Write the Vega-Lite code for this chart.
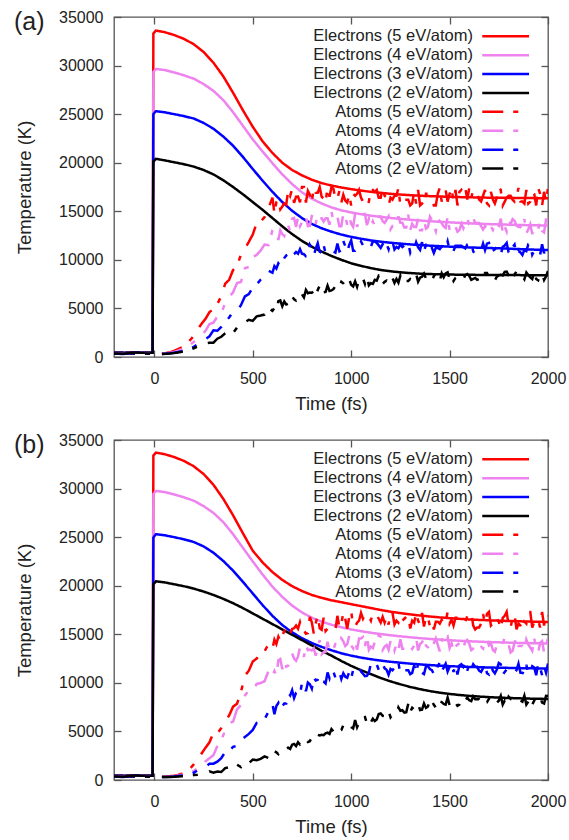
{
  "$schema": "https://vega.github.io/schema/vega-lite/v6.json",
  "padding": {"left": 13, "top": 8, "right": 0, "bottom": 0},
  "spacing": 17,
  "config": {
    "font": "Liberation Sans",
    "view": {"stroke": "#555", "strokeWidth": 1.3},
    "axis": {"domain": false, "grid": false, "tickSize": -7, "tickColor": "#555", "tickWidth": 1.3, "labelFontSize": 16, "labelColor": "#222", "titleFontSize": 18.5, "titleFontWeight": "normal", "titleColor": "#222", "labelFlush": false},
    "line": {"strokeWidth": 2.5}
  },
  "datasets": {
    "names": [
      {"k": "e5", "series": "Electrons (5 eV/atom)"},
      {"k": "e4", "series": "Electrons (4 eV/atom)"},
      {"k": "e3", "series": "Electrons (3 eV/atom)"},
      {"k": "e2", "series": "Electrons (2 eV/atom)"},
      {"k": "a5", "series": "Atoms (5 eV/atom)"},
      {"k": "a4", "series": "Atoms (4 eV/atom)"},
      {"k": "a3", "series": "Atoms (3 eV/atom)"},
      {"k": "a2", "series": "Atoms (2 eV/atom)"}
    ],
    "A": [
      {"t":-205,"e5":450,"e4":450,"e3":450,"e2":450},
      {"t":-150,"e5":420,"e4":420,"e3":420,"e2":420},
      {"t":-100,"e5":470,"e4":470,"e3":470,"e2":470},
      {"t":-50,"e5":430,"e4":430,"e3":430,"e2":430},
      {"t":-9,"e5":440,"e4":440,"e3":440,"e2":440},
      {"t":-5,"e5":33300,"e4":29350,"e3":25000,"e2":20100},
      {"t":8,"e5":33600,"e4":29650,"e3":25300,"e2":20400},
      {"t":50,"e5":33450,"e4":29550,"e3":25200,"e2":20250},
      {"t":100,"e5":33150,"e4":29300,"e3":25000,"e2":20050},
      {"t":150,"e5":32750,"e4":29000,"e3":24800,"e2":19850},
      {"t":200,"e5":32200,"e4":28650,"e3":24550,"e2":19600},
      {"t":250,"e5":31400,"e4":28100,"e3":24100,"e2":19250},
      {"t":300,"e5":30300,"e4":27400,"e3":23500,"e2":18800},
      {"t":350,"e5":28900,"e4":26450,"e3":22700,"e2":18200},
      {"t":400,"e5":27200,"e4":25200,"e3":21750,"e2":17500},
      {"t":450,"e5":25400,"e4":23800,"e3":20600,"e2":16750},
      {"t":500,"e5":23700,"e4":22400,"e3":19350,"e2":15950},
      {"t":550,"e5":22200,"e4":21150,"e3":18150,"e2":15150},
      {"t":600,"e5":21000,"e4":19950,"e3":17000,"e2":14300},
      {"t":650,"e5":20000,"e4":18800,"e3":15950,"e2":13450},
      {"t":700,"e5":19250,"e4":17800,"e3":15050,"e2":12650},
      {"t":750,"e5":18700,"e4":16950,"e3":14300,"e2":11950},
      {"t":800,"e5":18250,"e4":16300,"e3":13700,"e2":11350},
      {"t":850,"e5":17900,"e4":15800,"e3":13250,"e2":10850},
      {"t":900,"e5":17650,"e4":15400,"e3":12900,"e2":10400},
      {"t":950,"e5":17450,"e4":15100,"e3":12600,"e2":10000},
      {"t":1000,"e5":17280,"e4":14880,"e3":12370,"e2":9650},
      {"t":1050,"e5":17130,"e4":14700,"e3":12170,"e2":9380},
      {"t":1100,"e5":17000,"e4":14550,"e3":12000,"e2":9150},
      {"t":1150,"e5":16900,"e4":14420,"e3":11870,"e2":8960},
      {"t":1200,"e5":16800,"e4":14310,"e3":11760,"e2":8820},
      {"t":1250,"e5":16720,"e4":14220,"e3":11670,"e2":8720},
      {"t":1300,"e5":16660,"e4":14130,"e3":11590,"e2":8640},
      {"t":1350,"e5":16600,"e4":14050,"e3":11520,"e2":8580},
      {"t":1400,"e5":16560,"e4":13980,"e3":11460,"e2":8540},
      {"t":1450,"e5":16520,"e4":13920,"e3":11410,"e2":8510},
      {"t":1500,"e5":16490,"e4":13860,"e3":11360,"e2":8490},
      {"t":1550,"e5":16460,"e4":13810,"e3":11320,"e2":8470},
      {"t":1600,"e5":16440,"e4":13760,"e3":11280,"e2":8460},
      {"t":1650,"e5":16420,"e4":13720,"e3":11250,"e2":8450},
      {"t":1700,"e5":16400,"e4":13680,"e3":11220,"e2":8440},
      {"t":1750,"e5":16390,"e4":13650,"e3":11190,"e2":8440},
      {"t":1800,"e5":16380,"e4":13620,"e3":11150,"e2":8430},
      {"t":1850,"e5":16370,"e4":13590,"e3":11110,"e2":8430},
      {"t":1900,"e5":16360,"e4":13570,"e3":11070,"e2":8420},
      {"t":1950,"e5":16350,"e4":13550,"e3":11040,"e2":8420},
      {"t":2000,"e5":16340,"e4":13530,"e3":11010,"e2":8420},
      {"t":-205,"a5":380,"a4":360,"a3":370,"a2":350},
      {"t":-160,"a5":330,"a4":340,"a3":320,"a2":330},
      {"t":-120,"a5":410,"a4":390,"a3":380,"a2":400},
      {"t":-80,"a5":350,"a4":330,"a3":360,"a2":340},
      {"t":-40,"a5":370,"a4":350,"a3":340,"a2":360},
      {"t":0,"a5":300,"a4":300,"a3":300,"a2":300},
      {"t":20,"a5":320,"a4":310,"a3":300,"a2":300},
      {"t":40,"a5":360,"a4":340,"a3":320,"a2":310},
      {"t":60,"a5":420,"a4":380,"a3":350,"a2":330},
      {"t":80,"a5":500,"a4":440,"a3":390,"a2":360},
      {"t":100,"a5":620,"a4":520,"a3":440,"a2":400},
      {"t":120,"a5":800,"a4":640,"a3":510,"a2":460},
      {"t":140,"a5":1000,"a4":800,"a3":600,"a2":540},
      {"t":160,"a5":1300,"a4":1000,"a3":720,"a2":640},
      {"t":180,"a5":1700,"a4":1250,"a3":870,"a2":760},
      {"t":200,"a5":2150,"a4":1550,"a3":1050,"a2":900},
      {"t":220,"a5":2830,"a4":1830,"a3":1290,"a2":1090},
      {"t":240,"a5":3430,"a4":2240,"a3":1570,"a2":1080},
      {"t":260,"a5":3930,"a4":2690,"a3":1850,"a2":1390},
      {"t":280,"a5":4630,"a4":3400,"a3":2120,"a2":1460},
      {"t":300,"a5":4900,"a4":3540,"a3":2750,"a2":1470},
      {"t":320,"a5":5450,"a4":4170,"a3":2700,"a2":1880},
      {"t":340,"a5":6250,"a4":4470,"a3":3100,"a2":2080},
      {"t":360,"a5":7550,"a4":5580,"a3":3620,"a2":2430},
      {"t":380,"a5":7950,"a4":6180,"a3":4070,"a2":2630},
      {"t":400,"a5":8950,"a4":6660,"a3":4650,"a2":2470},
      {"t":420,"a5":9350,"a4":7610,"a3":4770,"a2":3030},
      {"t":440,"a5":10550,"a4":7720,"a3":5330,"a2":3120},
      {"t":460,"a5":11150,"a4":9130,"a3":6230,"a2":3580},
      {"t":480,"a5":11850,"a4":9270,"a3":6470,"a2":3830},
      {"t":500,"a5":12600,"a4":10290,"a3":7170,"a2":3720},
      {"t":520,"a5":13800,"a4":10510,"a3":7480,"a2":4180},
      {"t":540,"a5":13950,"a4":10960,"a3":7950,"a2":4270},
      {"t":560,"a5":14400,"a4":11580,"a3":8220,"a2":4370},
      {"t":580,"a5":15350,"a4":11520,"a3":8880,"a2":5030},
      {"t":600,"a5":16400,"a4":13050,"a3":8670,"a2":4750},
      {"t":620,"a5":15950,"a4":12730,"a3":9100,"a2":4750},
      {"t":640,"a5":15200,"a4":13030,"a3":9400,"a2":5830},
      {"t":660,"a5":15800,"a4":12450,"a3":10180,"a2":5710},
      {"t":680,"a5":17150,"a4":13530,"a3":10570,"a2":5490},
      {"t":700,"a5":17250,"a4":14230,"a3":10500,"a2":6250},
      {"t":720,"a5":16500,"a4":13380,"a3":10810,"a2":5810},
      {"t":740,"a5":15920,"a4":13480,"a3":11110,"a2":6670},
      {"t":760,"a5":17500,"a4":13730,"a3":10580,"a2":6130},
      {"t":780,"a5":17100,"a4":13470,"a3":10430,"a2":6570},
      {"t":800,"a5":15900,"a4":14520,"a3":11200,"a2":6610},
      {"t":820,"a5":16900,"a4":13710,"a3":11150,"a2":6330},
      {"t":840,"a5":17500,"a4":14230,"a3":10830,"a2":7340},
      {"t":860,"a5":16300,"a4":13950,"a3":11550,"a2":6650},
      {"t":880,"a5":17500,"a4":14280,"a3":10790,"a2":7350},
      {"t":900,"a5":17500,"a4":14950,"a3":10970,"a2":6850},
      {"t":920,"a5":16300,"a4":14120,"a3":10750,"a2":7330},
      {"t":940,"a5":17100,"a4":13450,"a3":10880,"a2":7210},
      {"t":960,"a5":16700,"a4":14780,"a3":11950,"a2":7590},
      {"t":980,"a5":15900,"a4":13620,"a3":10750,"a2":7460},
      {"t":1000,"a5":15600,"a4":13730,"a3":12020,"a2":7430},
      {"t":1020,"a5":16600,"a4":14730,"a3":10950,"a2":7790},
      {"t":1040,"a5":17200,"a4":14070,"a3":11350,"a2":7940},
      {"t":1060,"a5":16000,"a4":14730,"a3":11490,"a2":8090},
      {"t":1080,"a5":15600,"a4":13570,"a3":11620,"a2":8250},
      {"t":1100,"a5":17400,"a4":13470,"a3":11350,"a2":7600},
      {"t":1120,"a5":17000,"a4":13470,"a3":11890,"a2":7940},
      {"t":1140,"a5":16400,"a4":14470,"a3":11490,"a2":8380},
      {"t":1160,"a5":17400,"a4":13970,"a3":11620,"a2":7520},
      {"t":1180,"a5":16400,"a4":14130,"a3":11620,"a2":7860},
      {"t":1200,"a5":16400,"a4":13150,"a3":12000,"a2":8200},
      {"t":1220,"a5":16600,"a4":13480,"a3":11070,"a2":7630},
      {"t":1240,"a5":17400,"a4":14480,"a3":11200,"a2":7650},
      {"t":1260,"a5":16000,"a4":13820,"a3":11330,"a2":7780},
      {"t":1280,"a5":16200,"a4":13320,"a3":11600,"a2":7810},
      {"t":1300,"a5":15600,"a4":13050,"a3":10750,"a2":8030},
      {"t":1320,"a5":17000,"a4":13380,"a3":11150,"a2":8050},
      {"t":1340,"a5":17200,"a4":14220,"a3":11280,"a2":7760},
      {"t":1360,"a5":15800,"a4":13050,"a3":11820,"a2":8270},
      {"t":1380,"a5":16800,"a4":13220,"a3":11550,"a2":8090},
      {"t":1400,"a5":16400,"a4":14450,"a3":10830,"a2":7800},
      {"t":1420,"a5":15600,"a4":13450,"a3":10700,"a2":8310},
      {"t":1440,"a5":16800,"a4":14280,"a3":11230,"a2":8210},
      {"t":1460,"a5":16000,"a4":13780,"a3":11370,"a2":8610},
      {"t":1480,"a5":17200,"a4":13280,"a3":11230,"a2":8610},
      {"t":1500,"a5":16800,"a4":13070,"a3":11050,"a2":8030},
      {"t":1520,"a5":16000,"a4":13070,"a3":10920,"a2":7830},
      {"t":1540,"a5":15600,"a4":12900,"a3":11450,"a2":8230},
      {"t":1560,"a5":17200,"a4":13730,"a3":11450,"a2":8430},
      {"t":1580,"a5":17400,"a4":13730,"a3":11180,"a2":8430},
      {"t":1600,"a5":17400,"a4":13630,"a3":11670,"a2":8350},
      {"t":1620,"a5":17200,"a4":14300,"a3":10870,"a2":8050},
      {"t":1640,"a5":16800,"a4":13800,"a3":10730,"a2":7950},
      {"t":1660,"a5":16000,"a4":13470,"a3":11000,"a2":8150},
      {"t":1680,"a5":17200,"a4":13470,"a3":11000,"a2":8650},
      {"t":1700,"a5":15600,"a4":13750,"a3":11750,"a2":8270},
      {"t":1720,"a5":16200,"a4":13080,"a3":10950,"a2":7970},
      {"t":1740,"a5":16400,"a4":13080,"a3":11350,"a2":8270},
      {"t":1760,"a5":17200,"a4":14250,"a3":10550,"a2":8470},
      {"t":1780,"a5":16000,"a4":13420,"a3":11480,"a2":8770},
      {"t":1800,"a5":16600,"a4":14030,"a3":10770,"a2":8400},
      {"t":1820,"a5":16200,"a4":14200,"a3":11300,"a2":8000},
      {"t":1840,"a5":16400,"a4":13530,"a3":10500,"a2":8800},
      {"t":1860,"a5":16000,"a4":13370,"a3":10770,"a2":8300},
      {"t":1880,"a5":15800,"a4":14200,"a3":11030,"a2":8000},
      {"t":1900,"a5":15800,"a4":13150,"a3":11600,"a2":8430},
      {"t":1920,"a5":17000,"a4":12650,"a3":10530,"a2":8030},
      {"t":1940,"a5":15600,"a4":13150,"a3":10930,"a2":8030},
      {"t":1960,"a5":16800,"a4":13980,"a3":10530,"a2":8530},
      {"t":1980,"a5":17000,"a4":12820,"a3":10670,"a2":7930},
      {"t":2000,"a5":17400,"a4":14100,"a3":11280,"a2":8850},
      {"t":610,"a5":14780,"a4":13230,"a3":9350,"a2":5050},
      {"t":630,"a5":16280,"a4":12050,"a3":9650,"a2":5740},
      {"t":650,"a5":15500,"a4":12660,"a3":9800,"a2":5220},
      {"t":670,"a5":15680,"a4":13410,"a3":10450,"a2":5400},
      {"t":690,"a5":16600,"a4":12970,"a3":10130,"a2":5970},
      {"t":710,"a5":15880,"a4":14310,"a3":10590,"a2":5930},
      {"t":730,"a5":16510,"a4":14430,"a3":10630,"a2":6090},
      {"t":750,"a5":17500,"a4":13860,"a3":10640,"a2":6450},
      {"t":770,"a5":15900,"a4":14440,"a3":10370,"a2":6900},
      {"t":790,"a5":16700,"a4":13500,"a3":11550,"a2":6640},
      {"t":810,"a5":17500,"a4":14700,"a3":10440,"a2":6770},
      {"t":830,"a5":16900,"a4":14720,"a3":11720,"a2":6890},
      {"t":850,"a5":16500,"a4":14280,"a3":10720,"a2":6500},
      {"t":870,"a5":15900,"a4":14280,"a3":10640,"a2":6700},
      {"t":890,"a5":16500,"a4":13620,"a3":10950,"a2":6800},
      {"t":910,"a5":17300,"a4":13950,"a3":10860,"a2":6990},
      {"t":930,"a5":16300,"a4":14450,"a3":11680,"a2":7370},
      {"t":950,"a5":15900,"a4":13450,"a3":11020,"a2":7750},
      {"t":970,"a5":16100,"a4":14450,"a3":11420,"a2":7330},
      {"t":990,"a5":16700,"a4":14450,"a3":11550,"a2":8000},
      {"t":1010,"a5":16800,"a4":13400,"a3":10950,"a2":7260},
      {"t":1030,"a5":16800,"a4":13400,"a3":11220,"a2":7220},
      {"t":1050,"a5":16400,"a4":14570,"a3":11890,"a2":7970},
      {"t":1070,"a5":15600,"a4":14730,"a3":11750,"a2":7520},
      {"t":1090,"a5":16000,"a4":14230,"a3":11620,"a2":7380},
      {"t":1110,"a5":17200,"a4":13970,"a3":11890,"a2":7520},
      {"t":1130,"a5":17200,"a4":13630,"a3":11750,"a2":7860},
      {"t":1150,"a5":16400,"a4":14470,"a3":11220,"a2":8300},
      {"t":1170,"a5":16600,"a4":13800,"a3":11220,"a2":7740},
      {"t":1190,"a5":15600,"a4":14470,"a3":11090,"a2":7580},
      {"t":1210,"a5":16200,"a4":13480,"a3":11870,"a2":8120},
      {"t":1230,"a5":16600,"a4":13320,"a3":11330,"a2":8040},
      {"t":1250,"a5":15600,"a4":13820,"a3":11600,"a2":8370},
      {"t":1270,"a5":16200,"a4":13320,"a3":11470,"a2":7800},
      {"t":1290,"a5":16200,"a4":14650,"a3":11730,"a2":7820},
      {"t":1310,"a5":15800,"a4":13720,"a3":11280,"a2":7840},
      {"t":1330,"a5":15800,"a4":13380,"a3":11820,"a2":8550},
      {"t":1350,"a5":15600,"a4":13050,"a3":11020,"a2":8170},
      {"t":1370,"a5":15600,"a4":14050,"a3":10880,"a2":8580},
      {"t":1390,"a5":16800,"a4":13380,"a3":11550,"a2":8000},
      {"t":1410,"a5":16200,"a4":14120,"a3":11230,"a2":7910},
      {"t":1430,"a5":15600,"a4":12950,"a3":11230,"a2":8610},
      {"t":1450,"a5":17400,"a4":13950,"a3":11100,"a2":7810},
      {"t":1470,"a5":16600,"a4":13450,"a3":11100,"a2":8210},
      {"t":1490,"a5":16000,"a4":14450,"a3":11900,"a2":8710},
      {"t":1510,"a5":17400,"a4":13400,"a3":11320,"a2":8340},
      {"t":1530,"a5":17200,"a4":13400,"a3":11450,"a2":8140},
      {"t":1550,"a5":17000,"a4":13070,"a3":11450,"a2":8340},
      {"t":1570,"a5":16800,"a4":13230,"a3":11320,"a2":8040},
      {"t":1590,"a5":16200,"a4":14230,"a3":11580,"a2":8540},
      {"t":1610,"a5":16400,"a4":13470,"a3":11800,"a2":7940},
      {"t":1630,"a5":16800,"a4":13800,"a3":10600,"a2":8140},
      {"t":1650,"a5":16200,"a4":13800,"a3":10730,"a2":8040},
      {"t":1670,"a5":16600,"a4":13130,"a3":11670,"a2":8040},
      {"t":1690,"a5":15800,"a4":13300,"a3":11670,"a2":8640},
      {"t":1710,"a5":17000,"a4":13420,"a3":10820,"a2":8400},
      {"t":1730,"a5":15800,"a4":13580,"a3":11080,"a2":7900},
      {"t":1750,"a5":17400,"a4":13420,"a3":11080,"a2":8400},
      {"t":1770,"a5":15600,"a4":12750,"a3":11350,"a2":8400},
      {"t":1790,"a5":16400,"a4":12920,"a3":11750,"a2":8800},
      {"t":1810,"a5":16600,"a4":13700,"a3":10630,"a2":7900},
      {"t":1830,"a5":16000,"a4":14030,"a3":11570,"a2":8500},
      {"t":1850,"a5":17400,"a4":13370,"a3":10900,"a2":8300},
      {"t":1870,"a5":16000,"a4":13200,"a3":10500,"a2":8300},
      {"t":1890,"a5":17200,"a4":12700,"a3":10900,"a2":8700},
      {"t":1910,"a5":16000,"a4":13650,"a3":11600,"a2":8200},
      {"t":1930,"a5":16800,"a4":13320,"a3":10930,"a2":8800},
      {"t":1950,"a5":17400,"a4":13150,"a3":11070,"a2":7900},
      {"t":1970,"a5":15600,"a4":12980,"a3":11600,"a2":8600},
      {"t":1990,"a5":16000,"a4":14150,"a3":11470,"a2":8300}
    ],
    "B": [
      {"t":-205,"e5":450,"e4":450,"e3":450,"e2":450},
      {"t":-150,"e5":420,"e4":420,"e3":420,"e2":420},
      {"t":-100,"e5":470,"e4":470,"e3":470,"e2":470},
      {"t":-50,"e5":430,"e4":430,"e3":430,"e2":430},
      {"t":-9,"e5":440,"e4":440,"e3":440,"e2":440},
      {"t":-5,"e5":33400,"e4":29450,"e3":24950,"e2":20150},
      {"t":8,"e5":33700,"e4":29750,"e3":25300,"e2":20450},
      {"t":50,"e5":33550,"e4":29650,"e3":25200,"e2":20350},
      {"t":100,"e5":33250,"e4":29400,"e3":25000,"e2":20150},
      {"t":150,"e5":32850,"e4":29100,"e3":24780,"e2":19950},
      {"t":200,"e5":32300,"e4":28750,"e3":24500,"e2":19700},
      {"t":250,"e5":31500,"e4":28200,"e3":24050,"e2":19400},
      {"t":300,"e5":30400,"e4":27500,"e3":23400,"e2":19050},
      {"t":350,"e5":28950,"e4":26550,"e3":22550,"e2":18650},
      {"t":400,"e5":27250,"e4":25300,"e3":21550,"e2":18200},
      {"t":450,"e5":25400,"e4":23900,"e3":20400,"e2":17700},
      {"t":500,"e5":23600,"e4":22500,"e3":19200,"e2":17150},
      {"t":550,"e5":22400,"e4":21150,"e3":18000,"e2":16600},
      {"t":600,"e5":21400,"e4":19900,"e3":16900,"e2":16050},
      {"t":650,"e5":20600,"e4":18850,"e3":15950,"e2":15500},
      {"t":700,"e5":19950,"e4":17950,"e3":15200,"e2":14950},
      {"t":750,"e5":19450,"e4":17250,"e3":14600,"e2":14400},
      {"t":800,"e5":19050,"e4":16700,"e3":14100,"e2":13850},
      {"t":850,"e5":18750,"e4":16300,"e3":13700,"e2":13300},
      {"t":900,"e5":18500,"e4":15980,"e3":13350,"e2":12800},
      {"t":950,"e5":18300,"e4":15720,"e3":13050,"e2":12250},
      {"t":1000,"e5":18100,"e4":15500,"e3":12800,"e2":11750},
      {"t":1050,"e5":17900,"e4":15320,"e3":12600,"e2":11300},
      {"t":1100,"e5":17700,"e4":15160,"e3":12430,"e2":10900},
      {"t":1150,"e5":17500,"e4":15020,"e3":12290,"e2":10500},
      {"t":1200,"e5":17330,"e4":14900,"e3":12170,"e2":10150},
      {"t":1250,"e5":17180,"e4":14790,"e3":12070,"e2":9850},
      {"t":1300,"e5":17050,"e4":14690,"e3":11980,"e2":9580},
      {"t":1350,"e5":16930,"e4":14600,"e3":11900,"e2":9350},
      {"t":1400,"e5":16830,"e4":14520,"e3":11830,"e2":9150},
      {"t":1450,"e5":16740,"e4":14450,"e3":11770,"e2":8990},
      {"t":1500,"e5":16660,"e4":14390,"e3":11720,"e2":8860},
      {"t":1550,"e5":16590,"e4":14330,"e3":11680,"e2":8750},
      {"t":1600,"e5":16530,"e4":14280,"e3":11640,"e2":8660},
      {"t":1650,"e5":16480,"e4":14240,"e3":11610,"e2":8590},
      {"t":1700,"e5":16440,"e4":14200,"e3":11580,"e2":8530},
      {"t":1750,"e5":16400,"e4":14170,"e3":11560,"e2":8480},
      {"t":1800,"e5":16370,"e4":14140,"e3":11540,"e2":8440},
      {"t":1850,"e5":16340,"e4":14110,"e3":11520,"e2":8410},
      {"t":1900,"e5":16310,"e4":14090,"e3":11500,"e2":8380},
      {"t":1950,"e5":16290,"e4":14070,"e3":11490,"e2":8360},
      {"t":2000,"e5":16270,"e4":14050,"e3":11480,"e2":8340},
      {"t":-205,"a5":380,"a4":360,"a3":370,"a2":350},
      {"t":-160,"a5":330,"a4":340,"a3":320,"a2":330},
      {"t":-120,"a5":410,"a4":390,"a3":380,"a2":400},
      {"t":-80,"a5":350,"a4":330,"a3":360,"a2":340},
      {"t":-40,"a5":370,"a4":350,"a3":340,"a2":360},
      {"t":0,"a5":300,"a4":300,"a3":300,"a2":300},
      {"t":20,"a5":310,"a4":300,"a3":300,"a2":300},
      {"t":40,"a5":330,"a4":320,"a3":310,"a2":305},
      {"t":60,"a5":360,"a4":340,"a3":320,"a2":310},
      {"t":80,"a5":400,"a4":370,"a3":340,"a2":320},
      {"t":100,"a5":450,"a4":410,"a3":370,"a2":340},
      {"t":120,"a5":520,"a4":460,"a3":410,"a2":360},
      {"t":140,"a5":650,"a4":530,"a3":460,"a2":390},
      {"t":160,"a5":850,"a4":620,"a3":530,"a2":420},
      {"t":180,"a5":1150,"a4":750,"a3":620,"a2":460},
      {"t":200,"a5":1600,"a4":920,"a3":740,"a2":510},
      {"t":220,"a5":2130,"a4":1220,"a3":1010,"a2":530},
      {"t":240,"a5":2730,"a4":1260,"a3":1220,"a2":570},
      {"t":260,"a5":3330,"a4":1920,"a3":1370,"a2":650},
      {"t":280,"a5":3880,"a4":2230,"a3":1670,"a2":890},
      {"t":300,"a5":4850,"a4":2560,"a3":1680,"a2":750},
      {"t":320,"a5":4800,"a4":3490,"a3":1890,"a2":880},
      {"t":340,"a5":5350,"a4":4140,"a3":2250,"a2":820},
      {"t":360,"a5":6000,"a4":5090,"a3":2890,"a2":1220},
      {"t":380,"a5":6650,"a4":5840,"a3":2950,"a2":1320},
      {"t":400,"a5":7550,"a4":6010,"a3":3420,"a2":1310},
      {"t":420,"a5":7850,"a4":7260,"a3":3510,"a2":1580},
      {"t":440,"a5":9050,"a4":7710,"a3":4160,"a2":1330},
      {"t":460,"a5":10750,"a4":8690,"a3":4420,"a2":1910},
      {"t":480,"a5":11250,"a4":9240,"a3":4750,"a2":1720},
      {"t":500,"a5":12200,"a4":9160,"a3":5150,"a2":2110},
      {"t":520,"a5":12500,"a4":9890,"a3":5880,"a2":2030},
      {"t":540,"a5":13050,"a4":9990,"a3":5950,"a2":2170},
      {"t":560,"a5":13250,"a4":10170,"a3":6280,"a2":2430},
      {"t":580,"a5":14000,"a4":11230,"a3":7020,"a2":2270},
      {"t":600,"a5":13500,"a4":10730,"a3":7800,"a2":2890},
      {"t":620,"a5":14000,"a4":10700,"a3":7620,"a2":2850},
      {"t":640,"a5":14300,"a4":12450,"a3":7300,"a2":3010},
      {"t":660,"a5":15350,"a4":12200,"a3":7870,"a2":2910},
      {"t":680,"a5":15750,"a4":11780,"a3":8970,"a2":3330},
      {"t":700,"a5":15550,"a4":13030,"a3":9250,"a2":3640},
      {"t":720,"a5":15900,"a4":12280,"a3":8970,"a2":3490},
      {"t":740,"a5":16250,"a4":13650,"a3":8810,"a2":3650},
      {"t":760,"a5":15400,"a4":12680,"a3":10100,"a2":3860},
      {"t":780,"a5":15120,"a4":13360,"a3":10030,"a2":3920},
      {"t":800,"a5":16240,"a4":13340,"a3":9410,"a2":4380},
      {"t":820,"a5":16130,"a4":12790,"a3":10240,"a2":4270},
      {"t":840,"a5":15620,"a4":14400,"a3":10800,"a2":4580},
      {"t":860,"a5":16700,"a4":13150,"a3":10140,"a2":4620},
      {"t":880,"a5":15580,"a4":14220,"a3":11080,"a2":4880},
      {"t":900,"a5":15830,"a4":13280,"a3":11200,"a2":5230},
      {"t":920,"a5":15480,"a4":14000,"a3":10520,"a2":5120},
      {"t":940,"a5":15720,"a4":13720,"a3":11150,"a2":5070},
      {"t":960,"a5":17350,"a4":14270,"a3":10990,"a2":5630},
      {"t":980,"a5":15580,"a4":13980,"a3":10530,"a2":5400},
      {"t":1000,"a5":17400,"a4":13850,"a3":10480,"a2":5450},
      {"t":1020,"a5":15800,"a4":14400,"a3":11220,"a2":6170},
      {"t":1040,"a5":16400,"a4":14570,"a3":11680,"a2":5890},
      {"t":1060,"a5":16600,"a4":14730,"a3":10940,"a2":6410},
      {"t":1080,"a5":16800,"a4":14900,"a3":10730,"a2":5830},
      {"t":1100,"a5":16400,"a4":13730,"a3":11980,"a2":5950},
      {"t":1120,"a5":17200,"a4":14230,"a3":11750,"a2":6070},
      {"t":1140,"a5":16600,"a4":14900,"a3":11350,"a2":6790},
      {"t":1160,"a5":16800,"a4":13400,"a3":12020,"a2":6610},
      {"t":1180,"a5":16800,"a4":13900,"a3":11350,"a2":6830},
      {"t":1200,"a5":17400,"a4":14330,"a3":11430,"a2":6450},
      {"t":1220,"a5":16000,"a4":13330,"a3":11570,"a2":6760},
      {"t":1240,"a5":16200,"a4":13330,"a3":12100,"a2":7470},
      {"t":1260,"a5":16400,"a4":13500,"a3":11170,"a2":7180},
      {"t":1280,"a5":16800,"a4":13500,"a3":11300,"a2":6990},
      {"t":1300,"a5":15600,"a4":13830,"a3":10900,"a2":7000},
      {"t":1320,"a5":16200,"a4":13830,"a3":11830,"a2":7280},
      {"t":1340,"a5":16400,"a4":13330,"a3":11970,"a2":7860},
      {"t":1360,"a5":17200,"a4":14160,"a3":11030,"a2":7240},
      {"t":1380,"a5":16800,"a4":13830,"a3":11700,"a2":7420},
      {"t":1400,"a5":15800,"a4":13250,"a3":11430,"a2":8300},
      {"t":1420,"a5":15500,"a4":14080,"a3":10900,"a2":7740},
      {"t":1440,"a5":16300,"a4":13920,"a3":11700,"a2":8280},
      {"t":1460,"a5":16500,"a4":14580,"a3":11170,"a2":8020},
      {"t":1480,"a5":16300,"a4":14580,"a3":11970,"a2":7760},
      {"t":1500,"a5":16100,"a4":13580,"a3":11650,"a2":7700},
      {"t":1520,"a5":15900,"a4":13250,"a3":11120,"a2":7720},
      {"t":1540,"a5":16700,"a4":13920,"a3":10850,"a2":7640},
      {"t":1560,"a5":16700,"a4":14250,"a3":11920,"a2":8160},
      {"t":1580,"a5":16300,"a4":14250,"a3":12050,"a2":8180},
      {"t":1600,"a5":17100,"a4":14030,"a3":12050,"a2":8200},
      {"t":1620,"a5":15900,"a4":13530,"a3":11920,"a2":8610},
      {"t":1640,"a5":15700,"a4":13370,"a3":11650,"a2":8320},
      {"t":1660,"a5":16100,"a4":13700,"a3":11120,"a2":8130},
      {"t":1680,"a5":16100,"a4":14530,"a3":11920,"a2":8140},
      {"t":1700,"a5":17300,"a4":13870,"a3":10850,"a2":8350},
      {"t":1720,"a5":16100,"a4":13370,"a3":11250,"a2":7950},
      {"t":1740,"a5":16700,"a4":13870,"a3":11380,"a2":7960},
      {"t":1760,"a5":15500,"a4":14200,"a3":11920,"a2":8660},
      {"t":1780,"a5":16900,"a4":14700,"a3":11120,"a2":8160},
      {"t":1800,"a5":15900,"a4":13960,"a3":11450,"a2":8570},
      {"t":1820,"a5":16700,"a4":13300,"a3":11180,"a2":8670},
      {"t":1840,"a5":15500,"a4":14630,"a3":11310,"a2":8270},
      {"t":1860,"a5":15900,"a4":13800,"a3":11050,"a2":8170},
      {"t":1880,"a5":16300,"a4":13300,"a3":10910,"a2":8670},
      {"t":1900,"a5":17300,"a4":13960,"a3":10910,"a2":8070},
      {"t":1920,"a5":15700,"a4":13300,"a3":11710,"a2":7770},
      {"t":1940,"a5":16300,"a4":13300,"a3":10780,"a2":8070},
      {"t":1960,"a5":15700,"a4":14130,"a3":11580,"a2":8570},
      {"t":1980,"a5":15900,"a4":13130,"a3":11710,"a2":7870},
      {"t":2000,"a5":16900,"a4":14630,"a3":11980,"a2":8650},
      {"t":610,"a5":14450,"a4":11220,"a3":6780,"a2":2970},
      {"t":630,"a5":14750,"a4":12330,"a3":7930,"a2":2670},
      {"t":650,"a5":14820,"a4":11410,"a3":7580,"a2":2930},
      {"t":670,"a5":15650,"a4":11660,"a3":7880,"a2":3250},
      {"t":690,"a5":15050,"a4":12580,"a3":8710,"a2":3200},
      {"t":710,"a5":15630,"a4":12500,"a3":8440,"a2":3720},
      {"t":730,"a5":15580,"a4":12720,"a3":9090,"a2":3880},
      {"t":750,"a5":15530,"a4":13250,"a3":9990,"a2":3830},
      {"t":770,"a5":15060,"a4":13940,"a3":9130,"a2":4150},
      {"t":790,"a5":16780,"a4":13430,"a3":9860,"a2":4000},
      {"t":810,"a5":15090,"a4":13560,"a3":10560,"a2":4510},
      {"t":830,"a5":16980,"a4":13680,"a3":10320,"a2":4660},
      {"t":850,"a5":15460,"a4":12940,"a3":10200,"a2":4660},
      {"t":870,"a5":15340,"a4":13190,"a3":9940,"a2":4810},
      {"t":890,"a5":15800,"a4":13250,"a3":10470,"a2":4750},
      {"t":910,"a5":15660,"a4":13470,"a3":11130,"a2":5000},
      {"t":930,"a5":16900,"a4":14030,"a3":10570,"a2":5310},
      {"t":950,"a5":15940,"a4":14580,"a3":10400,"a2":5150},
      {"t":970,"a5":16570,"a4":13790,"a3":10630,"a2":5600},
      {"t":990,"a5":16790,"a4":14830,"a3":11110,"a2":5720},
      {"t":1010,"a5":15800,"a4":13550,"a3":11320,"a2":5310},
      {"t":1030,"a5":16200,"a4":13400,"a3":11380,"a2":5430},
      {"t":1050,"a5":17200,"a4":14570,"a3":11170,"a2":6250},
      {"t":1070,"a5":17000,"a4":13730,"a3":10700,"a2":6470},
      {"t":1090,"a5":16800,"a4":13400,"a3":11030,"a2":6290},
      {"t":1110,"a5":17200,"a4":13570,"a3":11890,"a2":6310},
      {"t":1130,"a5":17000,"a4":14070,"a3":11890,"a2":6230},
      {"t":1150,"a5":16200,"a4":14730,"a3":11350,"a2":6850},
      {"t":1170,"a5":16200,"a4":13730,"a3":11490,"a2":6570},
      {"t":1190,"a5":16000,"a4":13400,"a3":10820,"a2":7090},
      {"t":1210,"a5":17200,"a4":14160,"a3":11300,"a2":6710},
      {"t":1230,"a5":16400,"a4":14000,"a3":11570,"a2":6720},
      {"t":1250,"a5":16800,"a4":14500,"a3":10900,"a2":7130},
      {"t":1270,"a5":16600,"a4":13500,"a3":11300,"a2":6940},
      {"t":1290,"a5":17000,"a4":13500,"a3":11300,"a2":7850},
      {"t":1310,"a5":16400,"a4":13500,"a3":11030,"a2":7440},
      {"t":1330,"a5":17200,"a4":14660,"a3":11030,"a2":7320},
      {"t":1350,"a5":16000,"a4":14000,"a3":10900,"a2":7200},
      {"t":1370,"a5":15800,"a4":14660,"a3":10900,"a2":7880},
      {"t":1390,"a5":16800,"a4":13660,"a3":11700,"a2":7560},
      {"t":1410,"a5":16300,"a4":13420,"a3":11300,"a2":8120},
      {"t":1430,"a5":16300,"a4":14580,"a3":10900,"a2":7460},
      {"t":1450,"a5":16100,"a4":13250,"a3":12100,"a2":8100},
      {"t":1470,"a5":16100,"a4":13920,"a3":11570,"a2":7840},
      {"t":1490,"a5":17300,"a4":14750,"a3":11170,"a2":8480},
      {"t":1510,"a5":16500,"a4":14080,"a3":12050,"a2":7910},
      {"t":1530,"a5":16700,"a4":13750,"a3":11920,"a2":7930},
      {"t":1550,"a5":16700,"a4":14080,"a3":11780,"a2":7750},
      {"t":1570,"a5":16500,"a4":13580,"a3":11650,"a2":7870},
      {"t":1590,"a5":16900,"a4":14420,"a3":11250,"a2":8490},
      {"t":1610,"a5":17300,"a4":13370,"a3":11380,"a2":8120},
      {"t":1630,"a5":15500,"a4":13700,"a3":11650,"a2":8320},
      {"t":1650,"a5":15700,"a4":13530,"a3":11250,"a2":8320},
      {"t":1670,"a5":17100,"a4":13530,"a3":11520,"a2":7920},
      {"t":1690,"a5":17100,"a4":14530,"a3":10980,"a2":8020},
      {"t":1710,"a5":15900,"a4":14030,"a3":11780,"a2":8160},
      {"t":1730,"a5":16300,"a4":13200,"a3":10980,"a2":8260},
      {"t":1750,"a5":16300,"a4":14030,"a3":12050,"a2":8160},
      {"t":1770,"a5":16700,"a4":14030,"a3":10850,"a2":7760},
      {"t":1790,"a5":17300,"a4":14700,"a3":11380,"a2":7860},
      {"t":1810,"a5":15700,"a4":13130,"a3":11450,"a2":8360},
      {"t":1830,"a5":17100,"a4":14130,"a3":11050,"a2":8560},
      {"t":1850,"a5":16100,"a4":13800,"a3":11980,"a2":8160},
      {"t":1870,"a5":15500,"a4":13800,"a3":11050,"a2":8060},
      {"t":1890,"a5":16100,"a4":14460,"a3":11850,"a2":7760},
      {"t":1910,"a5":17300,"a4":13630,"a3":11050,"a2":8360},
      {"t":1930,"a5":16300,"a4":14630,"a3":11580,"a2":8160},
      {"t":1950,"a5":16500,"a4":13130,"a3":11980,"a2":8060},
      {"t":1970,"a5":17300,"a4":14300,"a3":10780,"a2":7960},
      {"t":1990,"a5":17100,"a4":13800,"a3":11050,"a2":8660}
    ]
  },
  "resolve": {"legend": {"color": "independent", "strokeDash": "independent"}},
  "vconcat": [
    {
      "width": 434,
      "height": 340,
      "data": {"name": "A"},
      "title": {"text": "(a)", "anchor": "start", "frame": "group", "orient": "top", "offset": -26, "dx": -100, "fontSize": 25, "fontWeight": "normal", "color": "#222"},
      "transform": [
        {"fold": ["e5", "e4", "e3", "e2", "a5", "a4", "a3", "a2"], "as": ["k", "T"]},
        {"filter": "isValid(datum.T)"},
        {"lookup": "k", "from": {"data": {"name": "names"}, "key": "k", "fields": ["series"]}}
      ],
      "layer": [
        {
          "mark": {"type": "line", "strokeWidth": 2.5, "clip": true},
          "encoding": {
            "x": {"field": "t", "type": "quantitative", "scale": {"domain": [-205, 2000], "nice": false, "zero": false}, "axis": {"orient": "bottom", "values": [0, 500, 1000, 1500, 2000], "format": "d", "title": "Time (fs)", "labelPadding": 20, "titlePadding": 8}},
            "y": {"field": "T", "type": "quantitative", "scale": {"domain": [0, 35000], "nice": false}, "axis": {"orient": "left", "values": [0, 5000, 10000, 15000, 20000, 25000, 30000, 35000], "format": "d", "title": "Temperature (K)", "labelPadding": 18, "titlePadding": 24}},
            "color": {"field": "series", "type": "nominal", "scale": {"domain": ["Electrons (5 eV/atom)", "Electrons (4 eV/atom)", "Electrons (3 eV/atom)", "Electrons (2 eV/atom)", "Atoms (5 eV/atom)", "Atoms (4 eV/atom)", "Atoms (3 eV/atom)", "Atoms (2 eV/atom)"], "range": ["#ff0000", "#ee82ee", "#0000ff", "#000000", "#ff0000", "#ee82ee", "#0000ff", "#000000"]},
              "legend": {"orient": "none", "legendX": 360, "legendY": 11, "title": null, "symbolType": "M-3.9,0H3.9", "symbolSize": 144, "symbolOffset": 23.4, "symbolStrokeWidth": 3, "labelAlign": "right", "labelOffset": -41, "labelFontSize": 16.5, "labelColor": "#222", "labelLimit": 300, "rowPadding": 1.9, "padding": 0}},
            "strokeDash": {"field": "series", "type": "nominal", "scale": {"domain": ["Electrons (5 eV/atom)", "Electrons (4 eV/atom)", "Electrons (3 eV/atom)", "Electrons (2 eV/atom)", "Atoms (5 eV/atom)", "Atoms (4 eV/atom)", "Atoms (3 eV/atom)", "Atoms (2 eV/atom)"], "range": [[1, 0], [1, 0], [1, 0], [1, 0], [21, 10, 5, 12], [21, 10, 5, 12], [21, 10, 5, 12], [21, 10, 5, 12]]},
              "legend": {"orient": "none", "legendX": 360, "legendY": 11, "title": null, "symbolType": "M-3.9,0H3.9", "symbolSize": 144, "symbolOffset": 23.4, "symbolStrokeWidth": 3, "labelAlign": "right", "labelOffset": -41, "labelFontSize": 16.5, "labelColor": "#222", "labelLimit": 300, "rowPadding": 1.9, "padding": 0}}
          }
        },
        {
          "transform": [{"filter": "datum.t == 2000"}],
          "mark": {"type": "point", "opacity": 0},
          "encoding": {
            "x": {"field": "t", "type": "quantitative", "scale": {"domain": [-205, 2000], "nice": false, "zero": false}, "axis": {"orient": "top", "values": [0, 500, 1000, 1500, 2000], "labels": false, "title": null}},
            "y": {"field": "T", "type": "quantitative", "scale": {"domain": [0, 35000], "nice": false}, "axis": {"orient": "right", "values": [0, 5000, 10000, 15000, 20000, 25000, 30000, 35000], "labels": false, "title": null}}
          }
        }
      ],
      "resolve": {"axis": {"x": "independent", "y": "independent"}}
    },
    {
      "width": 434,
      "height": 340,
      "data": {"name": "B"},
      "title": {"text": "(b)", "anchor": "start", "frame": "group", "orient": "top", "offset": -26, "dx": -100, "fontSize": 25, "fontWeight": "normal", "color": "#222"},
      "transform": [
        {"fold": ["e5", "e4", "e3", "e2", "a5", "a4", "a3", "a2"], "as": ["k", "T"]},
        {"filter": "isValid(datum.T)"},
        {"lookup": "k", "from": {"data": {"name": "names"}, "key": "k", "fields": ["series"]}}
      ],
      "layer": [
        {
          "mark": {"type": "line", "strokeWidth": 2.5, "clip": true},
          "encoding": {
            "x": {"field": "t", "type": "quantitative", "scale": {"domain": [-205, 2000], "nice": false, "zero": false}, "axis": {"orient": "bottom", "values": [0, 500, 1000, 1500, 2000], "format": "d", "title": "Time (fs)", "labelPadding": 20, "titlePadding": 8}},
            "y": {"field": "T", "type": "quantitative", "scale": {"domain": [0, 35000], "nice": false}, "axis": {"orient": "left", "values": [0, 5000, 10000, 15000, 20000, 25000, 30000, 35000], "format": "d", "title": "Temperature (K)", "labelPadding": 18, "titlePadding": 24}},
            "color": {"field": "series", "type": "nominal", "scale": {"domain": ["Electrons (5 eV/atom)", "Electrons (4 eV/atom)", "Electrons (3 eV/atom)", "Electrons (2 eV/atom)", "Atoms (5 eV/atom)", "Atoms (4 eV/atom)", "Atoms (3 eV/atom)", "Atoms (2 eV/atom)"], "range": ["#ff0000", "#ee82ee", "#0000ff", "#000000", "#ff0000", "#ee82ee", "#0000ff", "#000000"]},
              "legend": {"orient": "none", "legendX": 360, "legendY": 11, "title": null, "symbolType": "M-3.9,0H3.9", "symbolSize": 144, "symbolOffset": 23.4, "symbolStrokeWidth": 3, "labelAlign": "right", "labelOffset": -41, "labelFontSize": 16.5, "labelColor": "#222", "labelLimit": 300, "rowPadding": 1.9, "padding": 0}},
            "strokeDash": {"field": "series", "type": "nominal", "scale": {"domain": ["Electrons (5 eV/atom)", "Electrons (4 eV/atom)", "Electrons (3 eV/atom)", "Electrons (2 eV/atom)", "Atoms (5 eV/atom)", "Atoms (4 eV/atom)", "Atoms (3 eV/atom)", "Atoms (2 eV/atom)"], "range": [[1, 0], [1, 0], [1, 0], [1, 0], [21, 10, 5, 12], [21, 10, 5, 12], [21, 10, 5, 12], [21, 10, 5, 12]]},
              "legend": {"orient": "none", "legendX": 360, "legendY": 11, "title": null, "symbolType": "M-3.9,0H3.9", "symbolSize": 144, "symbolOffset": 23.4, "symbolStrokeWidth": 3, "labelAlign": "right", "labelOffset": -41, "labelFontSize": 16.5, "labelColor": "#222", "labelLimit": 300, "rowPadding": 1.9, "padding": 0}}
          }
        },
        {
          "transform": [{"filter": "datum.t == 2000"}],
          "mark": {"type": "point", "opacity": 0},
          "encoding": {
            "x": {"field": "t", "type": "quantitative", "scale": {"domain": [-205, 2000], "nice": false, "zero": false}, "axis": {"orient": "top", "values": [0, 500, 1000, 1500, 2000], "labels": false, "title": null}},
            "y": {"field": "T", "type": "quantitative", "scale": {"domain": [0, 35000], "nice": false}, "axis": {"orient": "right", "values": [0, 5000, 10000, 15000, 20000, 25000, 30000, 35000], "labels": false, "title": null}}
          }
        }
      ],
      "resolve": {"axis": {"x": "independent", "y": "independent"}}
    }
  ]
}
